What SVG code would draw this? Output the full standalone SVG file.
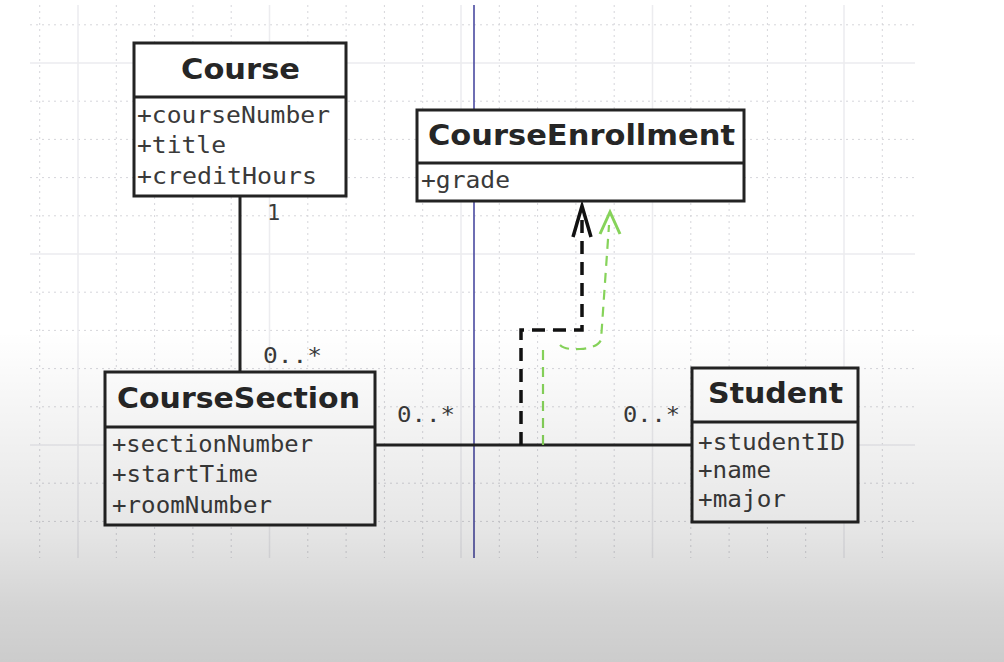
<svg xmlns="http://www.w3.org/2000/svg" width="1004" height="662" viewBox="0 0 1004 662">
<style>
.gd{stroke:#d6d6db;stroke-width:1;stroke-dasharray:2 4;fill:none}
.gs{stroke:#ececef;stroke-width:1.5;fill:none}
.box{fill:#fff;stroke:#232323;stroke-width:3}
.sep{stroke:#232323;stroke-width:3}
.title{font-family:"DejaVu Sans","Liberation Sans",sans-serif;font-weight:bold;font-size:29px;fill:#262626}
.attr{font-family:"DejaVu Sans Mono","Liberation Mono",monospace;font-size:23px;fill:#3a3a3a}
.lbl{font-family:"DejaVu Sans Mono","Liberation Mono",monospace;font-size:22px;fill:#3a3a3a}
.assoc{stroke:#222;stroke-width:3;fill:none}
.dep{stroke:#111;stroke-width:3.5;fill:none;stroke-dasharray:13 8}
.green{stroke:#86d35a;stroke-width:2.2;fill:none;stroke-dasharray:10 7}
</style>
<defs>
<linearGradient id="shade" x1="0" y1="0" x2="0" y2="1">
<stop offset="0" stop-color="#000" stop-opacity="0"/>
<stop offset="0.5" stop-color="#000" stop-opacity="0"/>
<stop offset="0.62" stop-color="#000" stop-opacity="0.04"/>
<stop offset="0.8" stop-color="#000" stop-opacity="0.1"/>
<stop offset="0.92" stop-color="#000" stop-opacity="0.17"/>
<stop offset="1" stop-color="#000" stop-opacity="0.2"/>
</linearGradient>
</defs>
<rect width="1004" height="662" fill="#fff"/>
<g id="grid">
<path class="gd" d="M39.7 5V558M116.3 5V558M154.6 5V558M192.9 5V558M231.2 5V558M307.8 5V558M346.1 5V558M384.4 5V558M422.7 5V558M499.3 5V558M537.6 5V558M575.9 5V558M614.2 5V558M690.8 5V558M729.1 5V558M767.4 5V558M805.7 5V558M882.3 5V558"/>
<path class="gd" d="M30 24.8H915M30 101.2H915M30 139.4H915M30 177.6H915M30 215.8H915M30 292.2H915M30 330.4H915M30 368.6H915M30 406.8H915M30 483.2H915M30 521.4H915"/>
<path class="gs" d="M78 5V558M269.5 5V558M461 5V558M652.5 5V558M844 5V558M30 63H915M30 254H915M30 445H915"/>
<line x1="474" y1="5" x2="474" y2="558" stroke="#4a4aa0" stroke-width="1.6"/>
</g>
<g id="connectors">
<line class="assoc" x1="240" y1="196" x2="240" y2="372"/>
<line class="assoc" x1="375" y1="445" x2="692" y2="445"/>
<path class="dep" d="M521 445V330H582V214"/>
<path d="M573 237L582 206L591 237" stroke="#111" stroke-width="3.5" fill="none"/>
<path class="green" d="M543 445V350"/>
<path class="green" d="M560 345Q565 350 580 349Q597 348 601 340L609 225"/>
<path d="M600 234L610 212L620 234" stroke="#86d35a" stroke-width="3" fill="none"/>
<text class="lbl" x="267" y="220">1</text>
<text class="lbl" x="263" y="363" textLength="59" lengthAdjust="spacingAndGlyphs">0..*</text>
<text class="lbl" x="397" y="422" textLength="58" lengthAdjust="spacingAndGlyphs">0..*</text>
<text class="lbl" x="623" y="422" textLength="57" lengthAdjust="spacingAndGlyphs">0..*</text>
</g>
<g id="course">
<rect class="box" x="134" y="43" width="212" height="153"/>
<line class="sep" x1="134" y1="97" x2="346" y2="97"/>
<text class="title" x="181" y="79" textLength="119" lengthAdjust="spacingAndGlyphs">Course</text>
<text class="attr" x="137" y="123" textLength="193" lengthAdjust="spacingAndGlyphs">+courseNumber</text>
<text class="attr" x="137" y="153" textLength="89" lengthAdjust="spacingAndGlyphs">+title</text>
<text class="attr" x="137" y="184" textLength="180" lengthAdjust="spacingAndGlyphs">+creditHours</text>
</g>
<g id="courseEnrollment">
<rect class="box" x="417" y="110" width="327" height="91"/>
<line class="sep" x1="417" y1="163" x2="744" y2="163"/>
<text class="title" x="428" y="145" textLength="307" lengthAdjust="spacingAndGlyphs">CourseEnrollment</text>
<text class="attr" x="421" y="188" textLength="89" lengthAdjust="spacingAndGlyphs">+grade</text>
</g>
<g id="courseSection">
<rect class="box" x="105" y="372" width="270" height="153"/>
<line class="sep" x1="105" y1="427" x2="375" y2="427"/>
<text class="title" x="117" y="408" textLength="243" lengthAdjust="spacingAndGlyphs">CourseSection</text>
<text class="attr" x="112" y="452" textLength="201" lengthAdjust="spacingAndGlyphs">+sectionNumber</text>
<text class="attr" x="112" y="482" textLength="146" lengthAdjust="spacingAndGlyphs">+startTime</text>
<text class="attr" x="112" y="513" textLength="160" lengthAdjust="spacingAndGlyphs">+roomNumber</text>
</g>
<g id="student">
<rect class="box" x="692" y="368" width="166" height="154"/>
<line class="sep" x1="692" y1="422" x2="858" y2="422"/>
<text class="title" x="708" y="403" textLength="135" lengthAdjust="spacingAndGlyphs">Student</text>
<text class="attr" x="698" y="450" textLength="147" lengthAdjust="spacingAndGlyphs">+studentID</text>
<text class="attr" x="698" y="478" textLength="73" lengthAdjust="spacingAndGlyphs">+name</text>
<text class="attr" x="698" y="507" textLength="88" lengthAdjust="spacingAndGlyphs">+major</text>
</g>
<rect width="1004" height="662" fill="url(#shade)"/>
</svg>
